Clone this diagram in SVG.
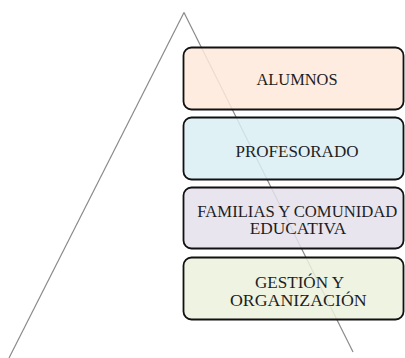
<svg xmlns="http://www.w3.org/2000/svg" width="405" height="358" viewBox="0 0 405 358">
<style>
.edge{stroke:#8a8a8a;stroke-width:1.2;fill:none}
.box{stroke:#111;stroke-width:1.8}
.lbl{font-family:"Liberation Serif","Times New Roman",serif;font-size:16px;fill:#1e1e1e;text-anchor:middle}
</style>
<rect width="405" height="358" fill="#fff"/>
<g id="connectors">
<line class="edge" x1="184" y1="12.5" x2="9" y2="358"/>
<line class="edge" x1="184" y1="12.5" x2="353" y2="352"/>
</g>
<g id="alumnos">
<rect class="box" x="183.5" y="47.5" width="220" height="62" rx="8" fill="#fde9d9" fill-opacity="0.85"/>
<text class="lbl" x="297" y="85" textLength="81" lengthAdjust="spacingAndGlyphs">ALUMNOS</text>
</g>
<g id="profesorado">
<rect class="box" x="183.5" y="117.5" width="220" height="62" rx="8" fill="#dbeef3" fill-opacity="0.85"/>
<text class="lbl" x="297" y="156.7" textLength="123" lengthAdjust="spacingAndGlyphs">PROFESORADO</text>
</g>
<g id="familias">
<rect class="box" x="183.5" y="187.5" width="220" height="61" rx="8" fill="#e5e0ec" fill-opacity="0.85"/>
<text class="lbl" x="297.3" y="216.7" textLength="200" lengthAdjust="spacingAndGlyphs">FAMILIAS Y COMUNIDAD</text>
<text class="lbl" x="298" y="234.3" textLength="96.7" lengthAdjust="spacingAndGlyphs">EDUCATIVA</text>
</g>
<g id="gestion">
<rect class="box" x="183.5" y="257.5" width="220" height="62" rx="8" fill="#ebf1dd" fill-opacity="0.85"/>
<text class="lbl" x="299.5" y="287.7" textLength="89" lengthAdjust="spacingAndGlyphs">GESTIÓN Y</text>
<text class="lbl" x="298.3" y="305.7" textLength="136.7" lengthAdjust="spacingAndGlyphs">ORGANIZACIÓN</text>
</g>
</svg>
